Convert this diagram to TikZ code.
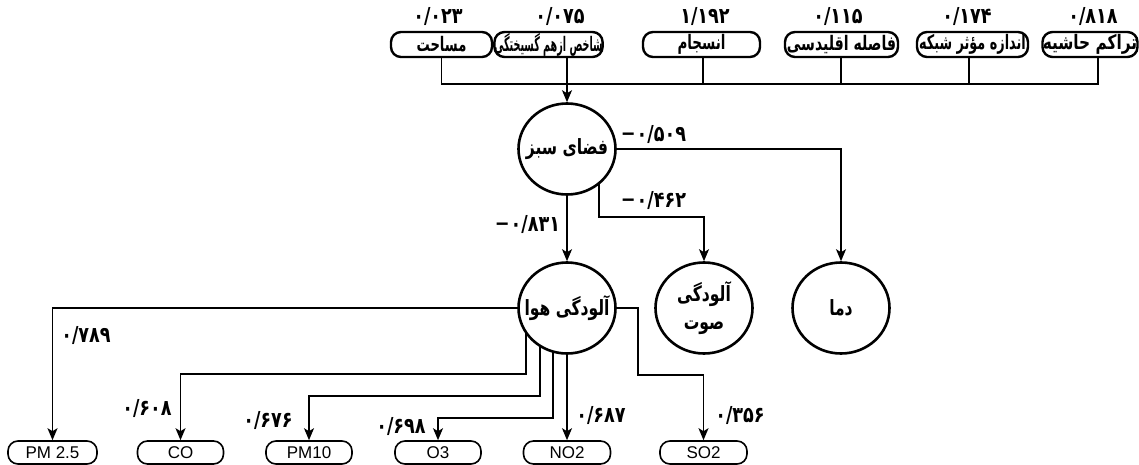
\documentclass[tikz,border=0pt]{standalone}
\usepackage{fontspec}
\setmainfont{Liberation Sans}
\newfontfamily\fa[Script=Arabic,FakeStretch=0.8]{DejaVu Sans}
\newfontfamily\fb[Script=Arabic,FakeStretch=0.74]{DejaVu Sans}
\TeXXeTstate=1
\usetikzlibrary{arrows.meta,calc,backgrounds,shapes.geometric}
\newcommand{\hsq}[2]{\scalebox{#1}[1]{#2}}
\newcommand{\mns}{{\rmfamily\bfseries −}\kern1pt}
\begin{document}
\begin{tikzpicture}[x=0.5pt,y=-0.5pt,
 topbox/.style={draw,line width=1.2pt,rounded corners=5pt,fill=white,minimum height=12.5pt,inner sep=0pt,font=\fa\bfseries\fontsize{10}{11}\selectfont},
 botbox/.style={draw,line width=0.8pt,rounded corners=5pt,fill=white,minimum width=43pt,minimum height=11.5pt,inner sep=0pt,font=\fontsize{8.5}{10}\selectfont},
 vtext/.style={font=\fb\bfseries\fontsize{10.5}{14}\selectfont,align=center,inner sep=0pt},
 var/.style={ellipse,draw,line width=1.3pt,fill=white,minimum width=48.5pt,minimum height=45.5pt,inner sep=0pt,label={[vtext]center:{#1}}},
 num/.style={font=\fa\bfseries\fontsize{11}{12}\selectfont,inner sep=0pt},
 conn/.style={line width=0.7pt},
 arr/.style={conn,-{Stealth[length=6pt,width=5pt,inset=1.5pt]}}]
\useasboundingbox (0,0) rectangle (1139,465);
% top boxes
\node[topbox,minimum width=50.5pt] (b1) at (441.5,44.5) {\hsq{0.82}{\beginR مساحت\endR}};
\node[topbox,minimum width=53.5pt] (b2) at (548.5,44.5) {\hsq{0.6}{\beginR شاخص ازهم گسیختگی\endR}};
\node[topbox,minimum width=58.5pt] (b3) at (701.5,44.5) {\hsq{0.84}{\beginR انسجام\endR}};
\node[topbox,minimum width=56.5pt] (b4) at (841.5,44.5) {\hsq{0.88}{\beginR فاصله اقلیدسی\endR}};
\node[topbox,minimum width=55.5pt] (b5) at (972.5,44.5) {\hsq{0.8}{\beginR اندازه مؤثر شبکه\endR}};
\node[topbox,minimum width=47.5pt] (b6) at (1090,44.5) {\hsq{0.96}{\beginR تراکم حاشیه\endR}};
% numbers above
\node[num] (n1) at (438,17) {۰/۰۲۳};
\node[num] (n2) at (560,17) {۰/۰۷۵};
\node[num] (n3) at (705,17) {۱/۱۹۲};
\node[num] (n4) at (838,17) {۰/۱۱۵};
\node[num] (n5) at (967,17) {۰/۱۷۴};
\node[num] (n6) at (1093,17) {۰/۸۱۸};
% variables
\node[var={\beginR فضای سبز\endR}] (sabz) at (567,149) {};
\node[var={\beginR آلودگی هوا\endR}] (hava) at (567,308) {};
\node[var={\beginR آلودگی\endR\\\beginR صوت\endR}] (soot) at (704,308) {};
\node[var={\beginR دما\endR}] (dama) at (841,308) {};
% bottom boxes
\node[botbox,minimum width=44.5pt] (pm25) at (52.5,452.5) {PM 2.5};
\node[botbox] (co) at (180.5,452.5) {CO};
\node[botbox] (pm10) at (309,452.5) {PM10};
\node[botbox] (o3) at (438,452.5) {O3};
\node[botbox,minimum width=43.5pt] (no2) at (567,452.5) {NO2};
\node[botbox,minimum width=43.5pt] (so2) at (703.5,452.5) {SO2};
% coefficient labels
\node[num] (l1) at (654,135) {\mns ۰/۵۰۹};
\node[num] (l2) at (654,200) {\mns ۰/۴۶۲};
\node[num] (l3) at (528,225) {\mns ۰/۸۳۱};
\node[num] (l4) at (86,335) {۰/۷۸۹};
\node[num] (l5) at (147,408) {۰/۶۰۸};
\node[num] (l6) at (268,420) {۰/۶۷۶};
\node[num] (l7) at (401,426) {۰/۶۹۸};
\node[num] (l8) at (601,415) {۰/۶۸۷};
\node[num] (l9) at (740,415) {۰/۳۵۶};
\coordinate (bus) at (0,84);
\begin{pgfonlayer}{background}
\draw[conn,line width=0.9pt] (b1.south) -- (b1.south |- bus) -- ($(b6.south |- bus)+(8,0)$) -- ($(b6.south)+(8,0)$);
\foreach \b/\d in {b3/1.5,b4/-0.5,b5/-3.5}
  \draw[conn] ($(\b.south)+(\d,0)$) -- ($(\b.south |- bus)+(\d,0)$);
\draw[arr] (b2.south -| sabz.north) -- (sabz.north);
\draw[arr] (sabz.east) -| (dama.north);
\draw[arr] ($(sabz.center)+(32,0)$) -- ++(0,68) -| (soot.north);
\draw[arr] (sabz.south) -- (hava.north);
\draw[arr] (hava.west) -| (pm25.north);
\draw[arr] ($(hava.center)+(-41,0)$) -- ++(0,66) -| (co.north);
\draw[arr] ($(hava.center)+(-27,0)$) -- ++(0,88) -| (pm10.north);
\draw[arr] ($(hava.center)+(-14,0)$) -- ++(0,110) -| (o3.north);
\draw[arr] (hava.south) -- (no2.north);
\draw[arr] (hava.east) -- ++(21,0) -- ++(0,67) -| (so2.north);
\end{pgfonlayer}
\end{tikzpicture}
\end{document}
